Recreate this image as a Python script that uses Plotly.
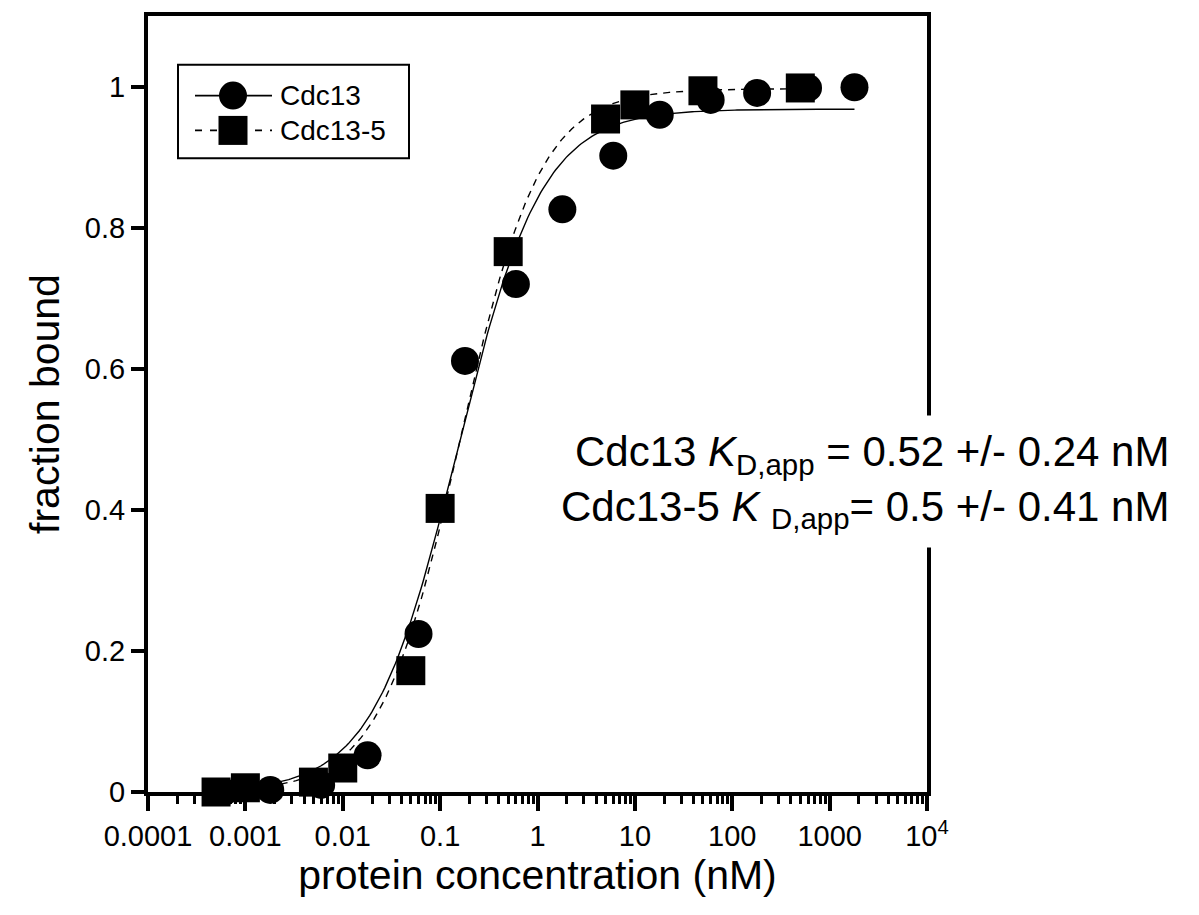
import numpy as np
import plotly.graph_objects as go

# ---- data ----
cdc13_conc = [0.0006, 0.0018, 0.006, 0.018, 0.06, 0.18, 0.6, 1.8, 6, 18, 60, 180, 600, 1800]
cdc13_frac = [0.0, 0.003, 0.010, 0.052, 0.224, 0.611, 0.720, 0.826, 0.902, 0.960, 0.981, 0.991, 0.998, 0.999]

cdc13_5_conc = [0.0005, 0.001, 0.005, 0.01, 0.05, 0.1, 0.5, 5, 10, 50, 500]
cdc13_5_frac = [0.0, 0.006, 0.014, 0.034, 0.172, 0.402, 0.766, 0.954, 0.974, 0.994, 0.998]

# fitted curve parameters (Hill model)
fit_cdc13 = dict(top=0.968, ec50=0.15, hill=1.0, xmin=0.0005, xmax=1800)
fit_cdc13_5 = dict(top=0.997, ec50=0.16, hill=1.06, xmin=0.0005, xmax=500)

x_tickvals = [1e-4, 1e-3, 1e-2, 1e-1, 1, 10, 100, 1000, 1e4]
x_ticktext = ["0.0001", "0.001", "0.01", "0.1", "1", "10", "100", "1000", "10<sup>4</sup>"]
y_tickvals = [0, 0.2, 0.4, 0.6, 0.8, 1.0]
y_ticktext = ["0", "0.2", "0.4", "0.6", "0.8", "1"]

FONT = "Liberation Sans, Arial, Helvetica, sans-serif"


def hill_curve(p, n=300):
    xs = np.logspace(np.log10(p["xmin"]), np.log10(p["xmax"]), n)
    ys = p["top"] * xs ** p["hill"] / (p["ec50"] ** p["hill"] + xs ** p["hill"])
    return xs, ys


fig = go.Figure()

xs, ys = hill_curve(fit_cdc13)
fig.add_trace(go.Scatter(x=xs, y=ys, mode="lines", line=dict(color="black", width=1.4),
                         showlegend=False, hoverinfo="skip"))
xs, ys = hill_curve(fit_cdc13_5)
fig.add_trace(go.Scatter(x=xs, y=ys, mode="lines",
                         line=dict(color="black", width=1.4, dash="7px,6px"),
                         showlegend=False, hoverinfo="skip"))

fig.add_trace(go.Scatter(x=cdc13_conc, y=cdc13_frac, mode="markers", name="Cdc13",
                         marker=dict(symbol="circle", size=28, color="black"),
                         cliponaxis=False, showlegend=False))
fig.add_trace(go.Scatter(x=cdc13_5_conc, y=cdc13_5_frac, mode="markers", name="Cdc13-5",
                         marker=dict(symbol="square", size=29, color="black"),
                         cliponaxis=False, showlegend=False))

minor_vals = [m * 10.0 ** e for e in range(-4, 4) for m in range(2, 10)]

fig.update_xaxes(type="log", range=[-4, 4], showline=True, linewidth=4, linecolor="black",
                 mirror=True, ticks="outside", ticklen=15, tickwidth=4, tickcolor="black",
                 tickmode="array", tickvals=x_tickvals, ticktext=x_ticktext,
                 minor=dict(tickmode="array", tickvals=minor_vals, ticks="outside",
                            ticklen=8, tickwidth=3, tickcolor="black", showgrid=False),
                 showgrid=False, zeroline=False,
                 tickfont=dict(family=FONT, size=29, color="black"),
                 title=dict(text="protein concentration (nM)", standoff=0,
                            font=dict(family=FONT, size=41, color="black")))
fig.update_yaxes(range=[0, 1.1], showline=True, linewidth=4, linecolor="black",
                 mirror=True, ticks="outside", ticklen=13, tickwidth=4, tickcolor="black",
                 tickmode="array", tickvals=y_tickvals, ticktext=y_ticktext,
                 showgrid=False, zeroline=False,
                 tickfont=dict(family=FONT, size=29, color="black"),
                 title=dict(text="fraction bound", standoff=14,
                            font=dict(family=FONT, size=41, color="black")))


# ---- hand-drawn legend (paper coordinates) ----
def px_x(p):
    return (p - 148) / 779.0


def px_y(p):
    return (792 - p) / 780.0


shapes = [
    dict(type="rect", xref="paper", yref="paper", x0=px_x(178), x1=px_x(409),
         y0=px_y(155), y1=px_y(61), line=dict(color="black", width=2), fillcolor="white"),
    dict(type="line", xref="paper", yref="paper", x0=px_x(195), x1=px_x(272),
         y0=px_y(92), y1=px_y(92), line=dict(color="black", width=1.6)),
    dict(type="line", xref="paper", yref="paper", x0=px_x(195), x1=px_x(272),
         y0=px_y(127), y1=px_y(127), line=dict(color="black", width=1.6, dash="7px,8px")),
    dict(type="circle", xref="paper", yref="paper", xsizemode="pixel", ysizemode="pixel",
         xanchor=px_x(233), yanchor=px_y(92), x0=-14, x1=14, y0=-14, y1=14,
         fillcolor="black", line=dict(color="black", width=0)),
    dict(type="rect", xref="paper", yref="paper", xsizemode="pixel", ysizemode="pixel",
         xanchor=px_x(233), yanchor=px_y(127), x0=-14.5, x1=14.5, y0=-14.5, y1=14.5,
         fillcolor="black", line=dict(color="black", width=0)),
]

annotations = [
    dict(xref="paper", yref="paper", x=px_x(278), y=px_y(92), xanchor="left", yanchor="middle",
         text="Cdc13", showarrow=False, font=dict(family=FONT, size=28, color="black")),
    dict(xref="paper", yref="paper", x=px_x(278), y=px_y(127), xanchor="left", yanchor="middle",
         text="Cdc13-5", showarrow=False, font=dict(family=FONT, size=28, color="black")),
    dict(xref="paper", yref="paper", x=px_x(1182), y=px_y(480), xanchor="right", yanchor="middle",
         align="right", showarrow=False, bgcolor="white", borderpad=12,
         text="Cdc13 <i>K</i><sub>D,app</sub> = 0.52 +/- 0.24 nM<br>"
              "Cdc13-5 <i>K</i> <sub>D,app</sub>= 0.5 +/- 0.41 nM",
         font=dict(family=FONT, size=42, color="black")),
]

fig.update_layout(width=1199, height=915, margin=dict(l=148, r=272, t=12, b=123),
                  paper_bgcolor="white", plot_bgcolor="white",
                  shapes=shapes, annotations=annotations, showlegend=False)

fig.write_html("out.html")
